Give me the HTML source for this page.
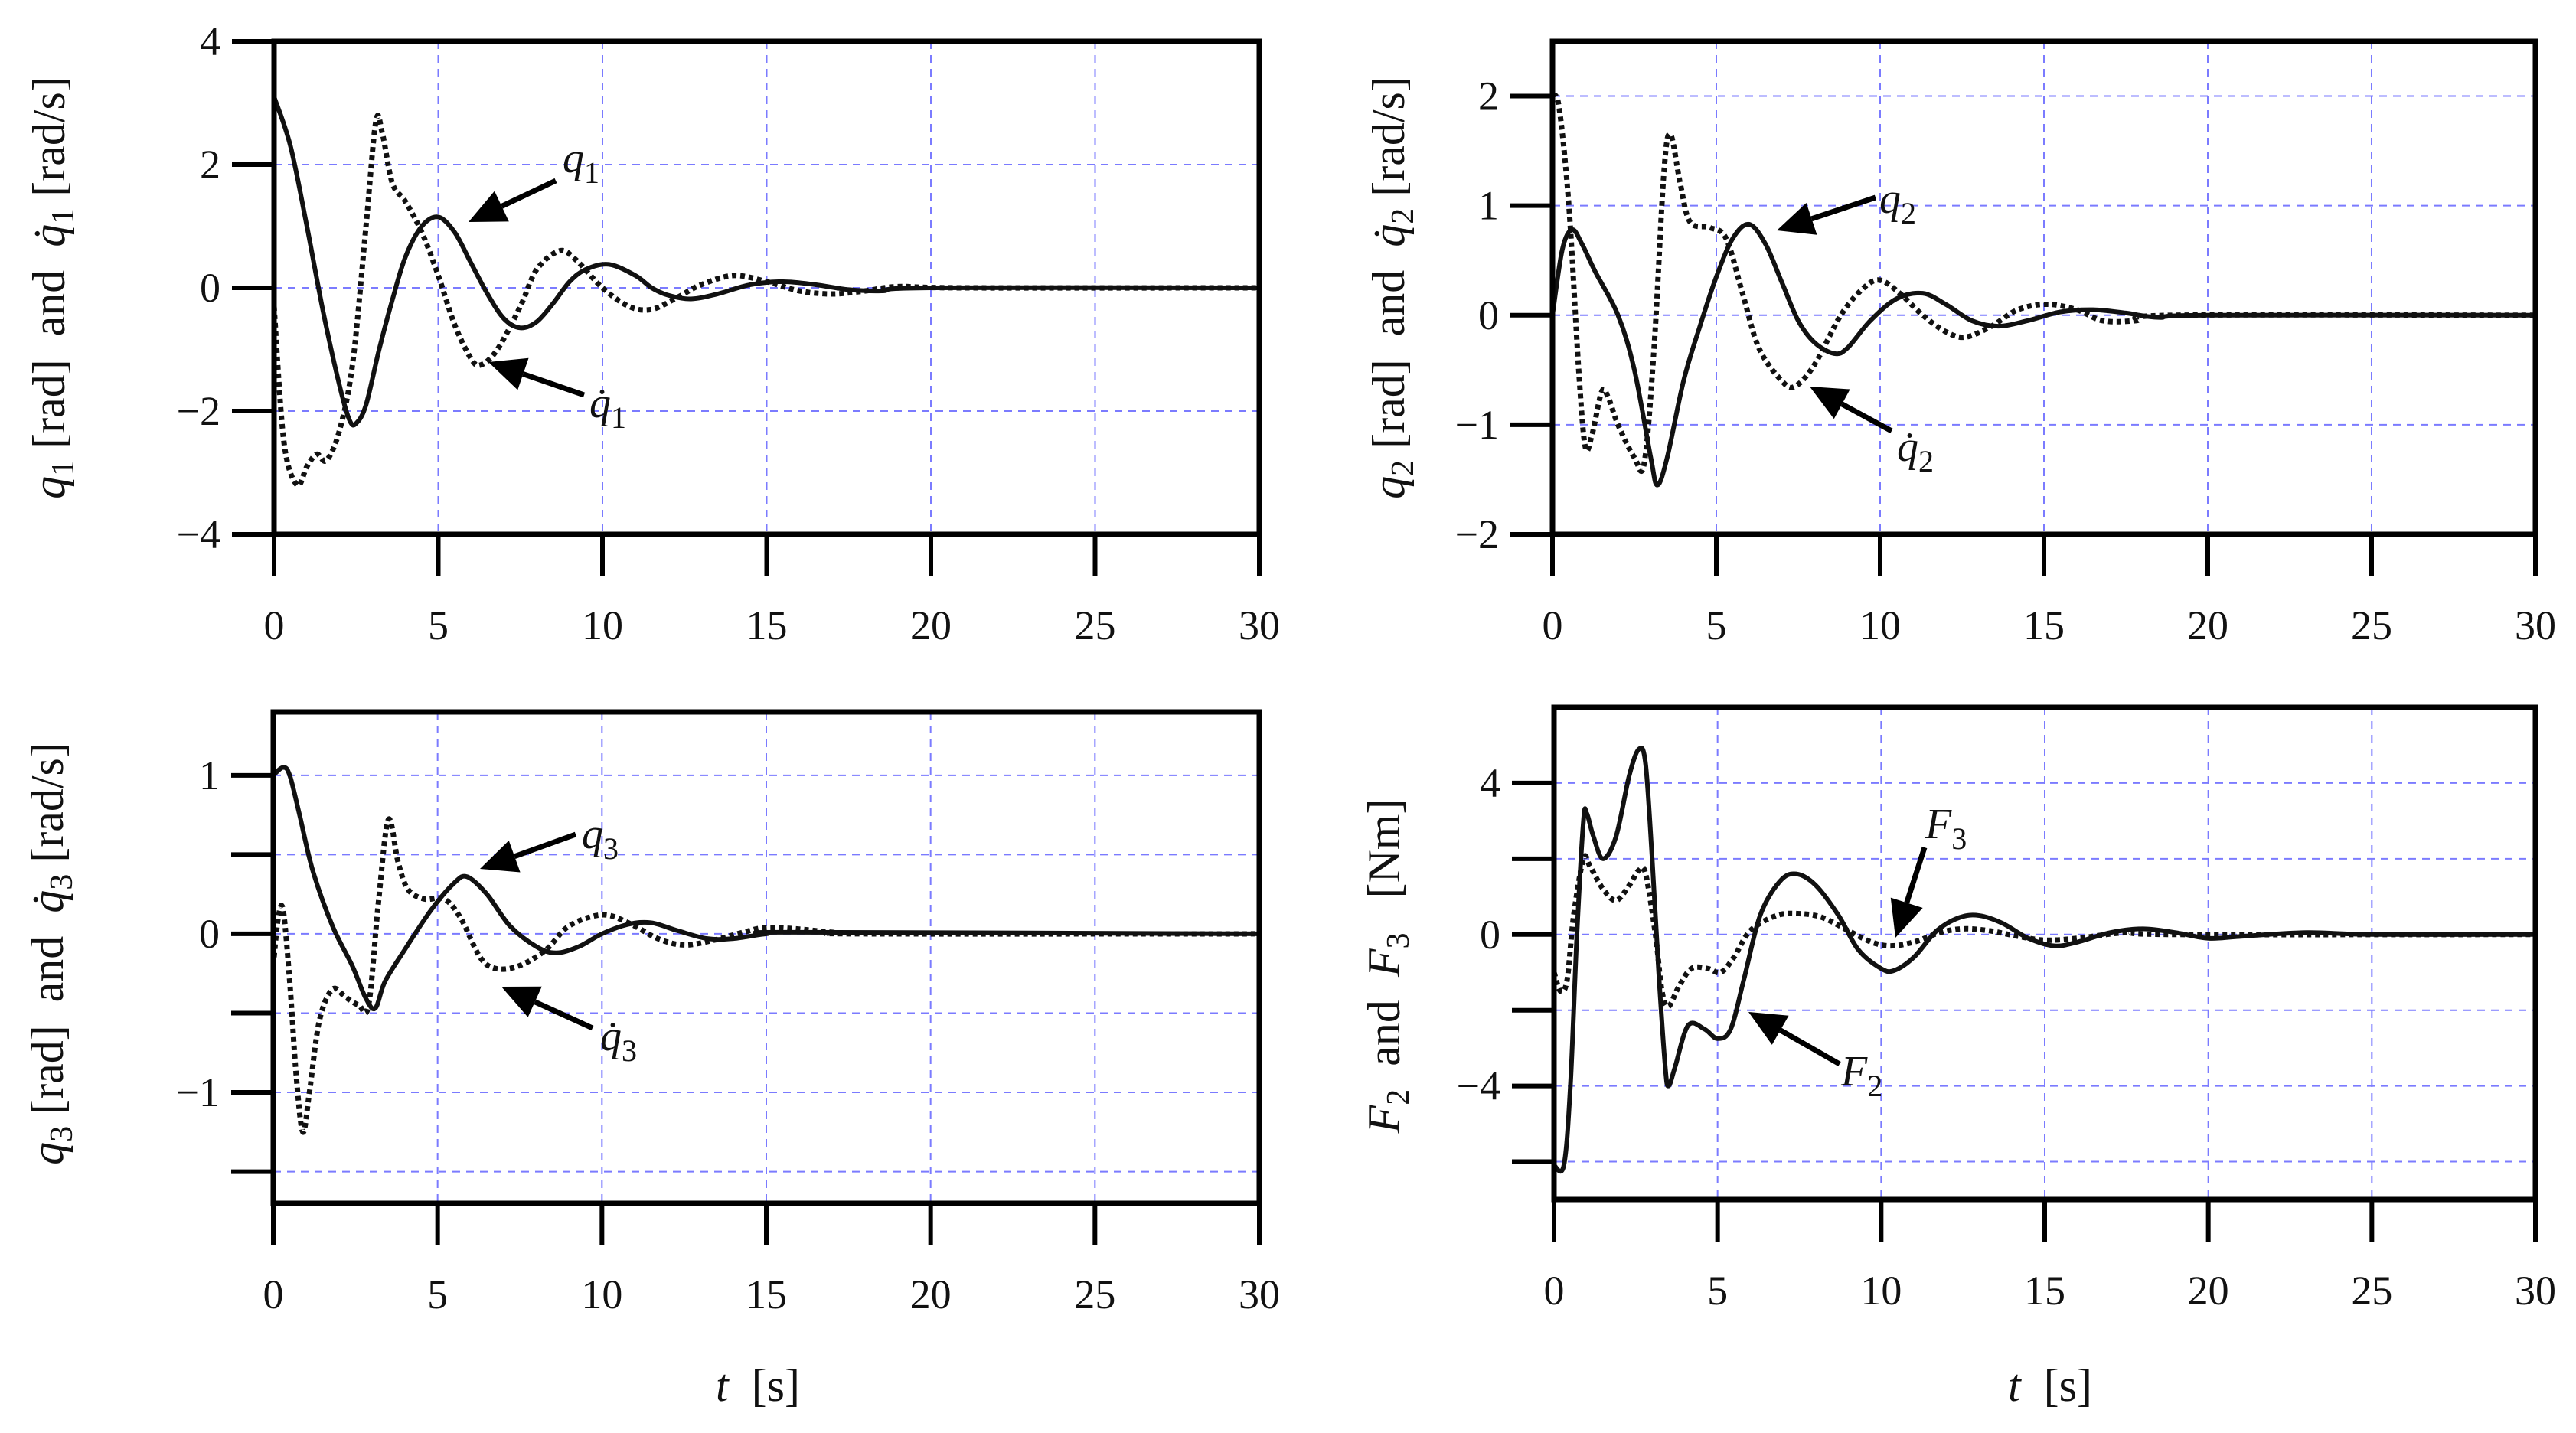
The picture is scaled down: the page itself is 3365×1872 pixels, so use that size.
<!DOCTYPE html>
<html><head><meta charset="utf-8">
<style>
html,body{margin:0;padding:0;background:#fff;}
svg{display:block;}
text{font-family:"Liberation Serif",serif;fill:#111;white-space:pre;}
</style></head>
<body>
<svg id="fig" width="3365" height="1872" viewBox="0 0 3365 1872" xmlns="http://www.w3.org/2000/svg"></svg>
<script>
// ---------- data ----------
const q1T  = [0,0.5,1,1.5,2,2.3,2.5,2.8,3.2,3.6,4,4.5,5,5.5,6,6.5,7,7.5,8,8.5,9,9.5,10.2,11,11.5,12,12.7,13.5,14.5,15.5,16.5,17.5,18.5,20,30];
const q1V  = [3.1,2.3,1.0,-0.4,-1.6,-2.15,-2.2,-1.9,-1.0,-0.2,0.5,1.0,1.15,0.9,0.4,-0.1,-0.5,-0.65,-0.55,-0.25,0.1,0.3,0.38,0.2,0,-0.12,-0.18,-0.1,0.05,0.1,0.05,-0.03,-0.05,0,0];
const q1dT = [0,0.3,0.7,1,1.3,1.6,2,2.4,2.8,3.1,3.3,3.6,4,4.5,5,5.5,6,6.3,6.8,7.5,8,8.7,9.2,10,10.8,11.5,12.3,13,14,15,16,17,18,19,21,30];
const q1dV = [-0.3,-2.5,-3.2,-2.9,-2.7,-2.8,-2.3,-1.2,1.0,2.7,2.5,1.7,1.4,0.9,0.2,-0.6,-1.15,-1.25,-1.0,-0.3,0.3,0.6,0.45,0,-0.3,-0.35,-0.15,0.05,0.2,0.1,-0.05,-0.1,-0.05,0.02,0,0];

const q2T  = [0,0.3,0.6,0.9,1.3,2,2.5,3,3.2,3.5,4,4.5,5,5.5,6,6.5,7,7.5,8,8.6,9,9.7,10.5,11.3,12,12.8,13.6,14.5,15.5,16.5,17.5,18.5,20,30];
const q2V  = [0,0.6,0.78,0.65,0.4,0.0,-0.5,-1.3,-1.55,-1.3,-0.6,-0.1,0.35,0.7,0.83,0.65,0.3,-0.05,-0.25,-0.35,-0.3,-0.05,0.15,0.2,0.1,-0.05,-0.1,-0.05,0.03,0.05,0.02,-0.02,0,0];
const q2dT = [0,0.2,0.5,0.8,1,1.2,1.5,1.7,2,2.5,2.8,3.1,3.4,3.6,3.9,4.2,4.8,5.3,5.8,6.3,7,7.4,8,8.8,9.5,10,10.6,11.3,12,12.6,13.4,14.2,15.1,16,16.8,17.8,19,30];
const q2dV = [2.0,1.9,1.0,-0.5,-1.2,-1.1,-0.7,-0.75,-1.0,-1.3,-1.35,-0.3,1.3,1.65,1.2,0.85,0.8,0.7,0.2,-0.3,-0.6,-0.65,-0.45,0.0,0.25,0.32,0.2,0,-0.15,-0.2,-0.1,0.05,0.1,0.05,-0.05,-0.05,0,0];

const q3T  = [0,0.3,0.5,0.8,1.2,1.8,2.4,2.8,3.1,3.4,4,4.8,5.5,5.9,6.5,7.2,8,8.6,9.3,10,10.8,11.5,12.3,13.2,14,15,16,30];
const q3V  = [1.0,1.05,1.0,0.75,0.4,0.05,-0.2,-0.4,-0.47,-0.3,-0.1,0.15,0.32,0.36,0.25,0.05,-0.08,-0.12,-0.08,0.0,0.06,0.07,0.02,-0.03,-0.03,0,0.01,0];
const q3dT = [0,0.15,0.3,0.5,0.7,0.9,1.1,1.4,1.8,2.2,2.6,2.9,3.2,3.5,3.8,4.1,4.6,5.2,5.7,6.3,6.8,7.5,8.3,9,10,10.8,11.7,12.5,13.4,14.3,15,16,17,18,30];
const q3dV = [-0.2,0.1,0.15,-0.3,-0.9,-1.25,-1.0,-0.55,-0.35,-0.4,-0.45,-0.45,0.2,0.72,0.45,0.28,0.22,0.22,0.1,-0.15,-0.22,-0.2,-0.1,0.05,0.12,0.07,-0.03,-0.07,-0.04,0.01,0.04,0.03,0.01,0,0];

const f2T = [0,0.3,0.5,0.7,0.9,1.0,1.2,1.5,1.9,2.3,2.6,2.8,3.0,3.2,3.4,3.5,3.7,4.1,4.6,5.0,5.4,5.8,6.3,6.9,7.4,8,8.7,9.3,10,10.4,11,11.7,12.4,13,13.7,14.5,15.3,16,17,18,19,20,21,23,25,30];
const f2V = [-6.1,-6.1,-4,0,3.0,3.2,2.6,2.0,2.6,4.2,4.9,4.5,2.0,-1.0,-3.5,-4.0,-3.5,-2.4,-2.5,-2.75,-2.5,-1.2,0.5,1.4,1.6,1.3,0.5,-0.4,-0.9,-0.95,-0.6,0.1,0.45,0.5,0.3,-0.1,-0.3,-0.2,0.05,0.15,0.05,-0.1,-0.05,0.05,0,0];
const f3T = [0,0.2,0.4,0.6,0.9,1.1,1.5,1.9,2.3,2.6,2.8,3.1,3.3,3.5,3.8,4.2,4.7,5.1,5.5,6,6.8,7.5,8.2,9,9.7,10.3,11,11.8,12.5,13.3,14.2,15,16,17.5,19,30];
const f3V = [-1.0,-1.5,-1.2,0.5,2.0,1.8,1.2,0.9,1.3,1.7,1.6,0,-1.5,-1.9,-1.4,-0.9,-0.9,-1.0,-0.6,0.1,0.5,0.55,0.45,0.1,-0.2,-0.3,-0.2,0.05,0.15,0.1,-0.05,-0.15,-0.1,0.05,0,0];

const xTicks = [0,5,10,15,20,25,30];
const xTickLabels = ["0","5","10","15","20","25","30"];

const p1Ticks=[4,2,0,-2,-4], p1Labels=["4","2","0","\u22122","\u22124"], p1Grid=[2,0,-2];
const p2Ticks=[2,1,0,-1,-2], p2Labels=["2","1","0","\u22121","\u22122"], p2Grid=[2,1,0,-1];
const p3Ticks=[1,0.5,0,-0.5,-1,-1.5], p3Labels=["1","","0","","\u22121",""], p3Grid=[1,0.5,0,-0.5,-1,-1.5];
const p4Ticks=[4,2,0,-2,-4,-6], p4Labels=["4","","0","","\u22124",""], p4Grid=[4,2,0,-2,-4,-6];

// ---------- drawing ----------
const NS="http://www.w3.org/2000/svg";
const svg=document.getElementById('fig');
function mk(tag,attrs,parent){const e=document.createElementNS(NS,tag);for(const k in attrs)e.setAttribute(k,attrs[k]);(parent||svg).appendChild(e);return e;}

function smooth(pts){
  let d=`M${pts[0][0]},${pts[0][1]}`;
  for(let i=0;i<pts.length-1;i++){
    const p0=pts[i-1]||pts[i],p1=pts[i],p2=pts[i+1],p3=pts[i+2]||pts[i+1];
    const c1x=p1[0]+(p2[0]-p0[0])/6,c1y=p1[1]+(p2[1]-p0[1])/6;
    const c2x=p2[0]-(p3[0]-p1[0])/6,c2y=p2[1]-(p3[1]-p1[1])/6;
    d+=` C${c1x},${c1y} ${c2x},${c2y} ${p2[0]},${p2[1]}`;
  }
  return d;
}

function panel(cfg){
  const g=mk('g',{});
  
  
  const {L,R,T,B,ymin,ymax}=cfg;
  const X=t=>L+(t-0)/(30-0)*(R-L);
  const Y=v=>T+(ymax-v)/(ymax-ymin)*(B-T);
  xTicks.forEach(t=>{ if(t>0&&t<30){
    const l=mk('line',{x1:X(t),x2:X(t),y1:T,y2:B,stroke:'#7b7bff','stroke-width':2,'stroke-dasharray':'10 8'},g);
    
    
  }});
  cfg.grid.forEach(v=>{
    const l=mk('line',{x1:L,x2:R,y1:Y(v),y2:Y(v),stroke:'#7b7bff','stroke-width':2,'stroke-dasharray':'10 8'},g);
    
    
  });
  const sp=mk('path',{d:smooth(cfg.solidT.map((t,i)=>[X(t),Y(cfg.solidV[i])])),fill:'none',stroke:'#111','stroke-width':6,'stroke-linejoin':'round'},g);
  
  
  const dp=mk('path',{d:smooth(cfg.dotT.map((t,i)=>[X(t),Y(cfg.dotV[i])])),fill:'none',stroke:'#111','stroke-width':7,'stroke-dasharray':'6 5'},g);
  
  
  const bx=mk('rect',{x:L,y:T,width:R-L,height:B-T,fill:'none',stroke:'#000','stroke-width':7},g);
  
  
  xTicks.forEach((t,i)=>{
    const tk=mk('line',{x1:X(t),x2:X(t),y1:B,y2:B+55,stroke:'#000','stroke-width':6},g);
    
    
    const tx=mk('text',{x:X(t),y:B+137,'text-anchor':'middle','font-size':54},g);
    tx.textContent=xTickLabels[i];
    
    
  });
  cfg.ticks.forEach((v,i)=>{
    const tk=mk('line',{x1:L-55,x2:L,y1:Y(v),y2:Y(v),stroke:'#000','stroke-width':6},g);
    
    
    if(cfg.labels[i]){
      const tx=mk('text',{x:L-70,y:Y(v)+18,'text-anchor':'end','font-size':54},g);
      tx.textContent=cfg.labels[i];
      
      
    }
  });
}

panel({name:'q1-panel',L:358,R:1645,T:54,B:698,ymin:-4,ymax:4,ticks:p1Ticks,labels:p1Labels,grid:p1Grid,
  solidT:q1T,solidV:q1V,dotT:q1dT,dotV:q1dV,solidName:'q1-line',dotName:'q1-dot-line'});
panel({name:'q2-panel',L:2028,R:3312,T:54,B:698,ymin:-2,ymax:2.5,ticks:p2Ticks,labels:p2Labels,grid:p2Grid,
  solidT:q2T,solidV:q2V,dotT:q2dT,dotV:q2dV,solidName:'q2-line',dotName:'q2-dot-line'});
panel({name:'q3-panel',L:357,R:1645,T:930,B:1572,ymin:-1.7,ymax:1.4,ticks:p3Ticks,labels:p3Labels,grid:p3Grid,
  solidT:q3T,solidV:q3V,dotT:q3dT,dotV:q3dV,solidName:'q3-line',dotName:'q3-dot-line'});
panel({name:'force-panel',L:2030,R:3312,T:924,B:1567,ymin:-7,ymax:6,ticks:p4Ticks,labels:p4Labels,grid:p4Grid,
  solidT:f2T,solidV:f2V,dotT:f3T,dotV:f3V,solidName:'f2-line',dotName:'f3-line'});

function arrow(x1,y1,x2,y2,name){
  const g=mk('g',{});
  
  
  const dx=x2-x1,dy=y2-y1,len=Math.hypot(dx,dy),ux=dx/len,uy=dy/len;
  const hl=48,hw=22;
  const bx=x2-ux*hl,by=y2-uy*hl;
  mk('line',{x1:x1,y1:y1,x2:bx,y2:by,stroke:'#000','stroke-width':7},g);
  mk('polygon',{points:`${x2},${y2} ${bx-uy*hw},${by+ux*hw} ${bx+uy*hw},${by-ux*hw}`,fill:'#000'},g);
}
arrow(726,236,612,290,'q1-arrow');
arrow(763,516,638,473,'q1-dot-arrow');
arrow(2450,258,2321,301,'q2-arrow');
arrow(2471,563,2364,505,'q2-dot-arrow');
arrow(752,1090,627,1135,'q3-arrow');
arrow(774,1343,655,1289,'q3-dot-arrow');
arrow(2514,1107,2476,1225,'f3-arrow');
arrow(2403,1390,2284,1322,'f2-arrow');

function lab(x,y,sym,sub,dot,name){
  const t=document.createElementNS(NS,'text');
  t.setAttribute('x',x);t.setAttribute('y',y);t.setAttribute('font-size',56);
  
  
  t.innerHTML=`<tspan font-style="italic">${sym}${dot?'\u0307':''}</tspan><tspan font-size="40" dy="14">${sub}</tspan>`;
  svg.appendChild(t);
}
lab(735,225,'q','1',false,'q1-annotation');
lab(770,545,'q','1',true,'q1-dot-annotation');
lab(2455,278,'q','2',false,'q2-annotation');
lab(2478,602,'q','2',true,'q2-dot-annotation');
lab(760,1108,'q','3',false,'q3-annotation');
lab(784,1372,'q','3',true,'q3-dot-annotation');
lab(2515,1095,'F','3',false,'f3-annotation');
lab(2405,1418,'F','2',false,'f2-annotation');

function ylab(x,y,html,name){
  const t=document.createElementNS(NS,'text');
  t.setAttribute('x',0);t.setAttribute('y',0);t.setAttribute('font-size',60);
  t.setAttribute('text-anchor','middle');
  t.setAttribute('transform',`translate(${x},${y}) rotate(-90)`);
  
  
  t.innerHTML=html;
  svg.appendChild(t);
}
const sub=(s)=>`<tspan font-size="42" dy="12">${s}</tspan><tspan dy="-12"> </tspan>`;
ylab(84,376,`<tspan font-style="italic">q</tspan>${sub('1')}[rad]  and  <tspan font-style="italic">q\u0307</tspan>${sub('1')}[rad/s]`,'q-axis-title-1');
ylab(1834,376,`<tspan font-style="italic">q</tspan>${sub('2')}[rad]  and  <tspan font-style="italic">q\u0307</tspan>${sub('2')}[rad/s]`,'q-axis-title-2');
ylab(82,1246,`<tspan font-style="italic">q</tspan>${sub('3')}[rad]  and  <tspan font-style="italic">q\u0307</tspan>${sub('3')}[rad/s]`,'q-axis-title-3');
ylab(1828,1262,`<tspan font-style="italic">F</tspan>${sub('2')} and  <tspan font-style="italic">F</tspan>${sub('3')}  [Nm]`,'force-axis-title');

function xt(x,name){
  const t=document.createElementNS(NS,'text');
  t.setAttribute('x',x);t.setAttribute('y',1830);t.setAttribute('font-size',60);
  t.setAttribute('text-anchor','middle');
  
  
  t.innerHTML=`<tspan font-style="italic">t</tspan>  [s]`;
  svg.appendChild(t);
}
xt(990,'x-axis-title-left');
xt(2678,'x-axis-title-right');
</script>
</body></html>
